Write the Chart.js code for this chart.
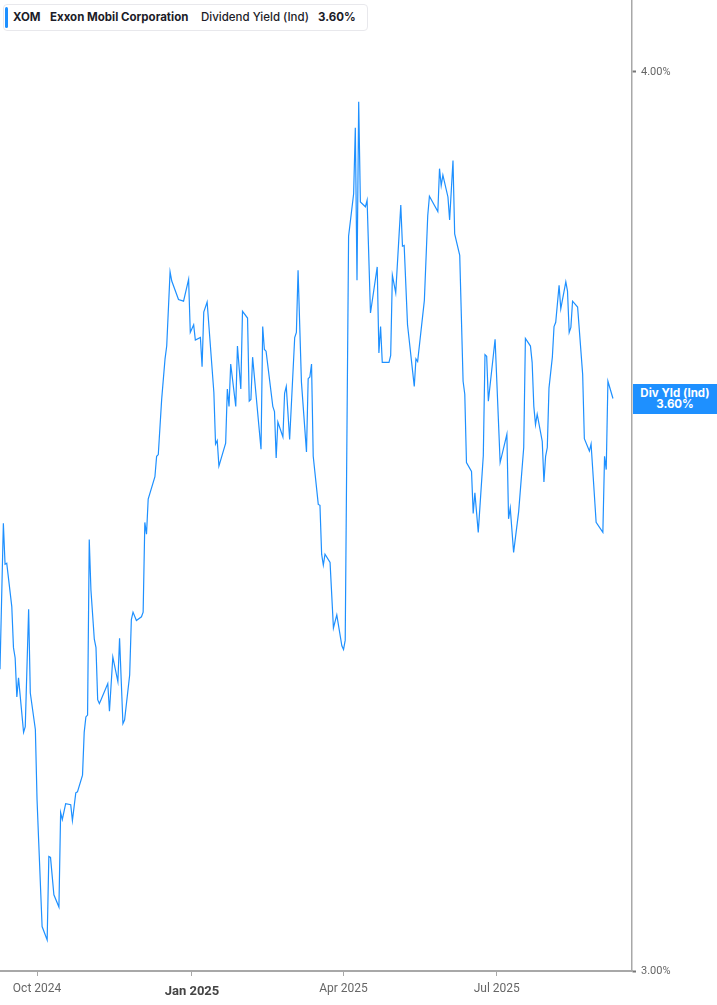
<!DOCTYPE html>
<html>
<head>
<meta charset="utf-8">
<script src="https://cdn.jsdelivr.net/npm/chart.js@4.4.1/dist/chart.umd.min.js"></script>
<style>
  body { margin: 0; background: #fff; }
  #wrap { position: relative; width: 717px; height: 1005px; }
  #legend {
    position: absolute; left: 3px; top: 4px; width: 363px; height: 25px;
    border: 1px solid #e8e8ec; border-radius: 4px; background: #fff;
    font-family: Inter, "Noto Sans", sans-serif; font-size: 11.5px; color: #1c1c28;
  }
  #legend .bar { position: absolute; left: 1px; top: 2px; width: 3px; height: 21px; background: #1e90ff; border-radius: 2px; }
  #legend span.t { position: absolute; top: 5px; line-height: 14px; white-space: nowrap; }
  #legend .b { font-weight: 700; }
  #legend .m { font-weight: 500; }
  #tag {
    position: absolute; left: 633px; width: 84px; height: 30px; background: #1e90ff; color: #fff;
    font-family: Inter, "Noto Sans", sans-serif; font-size: 11.5px; font-weight: 700;
    text-align: center; line-height: 11px; padding-top: 4px; box-sizing: border-box;
  }
</style>
</head>
<body>
<div id="wrap">
  <canvas id="chart" width="717" height="1005"></canvas>
  <div id="legend">
    <span class="bar"></span>
    <span class="t b" style="left:9px">XOM</span>
    <span class="t b" style="left:46px">Exxon Mobil Corporation</span>
    <span class="t m" style="left:197px">Dividend Yield (Ind)</span>
    <span class="t b" style="left:314px" id="legend-val"></span>
  </div>
  <div id="tag">Div Yld (Ind)<br><span id="tag-val"></span></div>
</div>
<script>
const dates = [
  '2024-09-09','2024-09-11','2024-09-12','2024-09-13','2024-09-16','2024-09-17','2024-09-18','2024-09-19','2024-09-20',
  '2024-09-23','2024-09-24','2024-09-26','2024-09-27','2024-09-30',
  '2024-10-01','2024-10-02','2024-10-04','2024-10-07','2024-10-08','2024-10-09','2024-10-11','2024-10-14','2024-10-15',
  '2024-10-16','2024-10-18','2024-10-21','2024-10-22','2024-10-24','2024-10-25','2024-10-28','2024-10-29','2024-10-30','2024-10-31',
  '2024-11-01','2024-11-02','2024-11-04','2024-11-05','2024-11-06','2024-11-07','2024-11-08','2024-11-12','2024-11-13',
  '2024-11-15','2024-11-18','2024-11-19','2024-11-21','2024-11-22','2024-11-25','2024-11-26','2024-11-27','2024-11-29',
  '2024-12-02','2024-12-03','2024-12-04','2024-12-05','2024-12-06','2024-12-10','2024-12-11','2024-12-12','2024-12-14',
  '2024-12-16','2024-12-17','2024-12-19','2024-12-20','2024-12-24','2024-12-27','2024-12-30','2024-12-31',
  '2025-01-02','2025-01-03','2025-01-06','2025-01-07','2025-01-08','2025-01-10','2025-01-14','2025-01-15','2025-01-16',
  '2025-01-17','2025-01-21','2025-01-22','2025-01-23','2025-01-24','2025-01-27','2025-01-28','2025-01-30','2025-01-31',
  '2025-02-03','2025-02-04','2025-02-05','2025-02-06','2025-02-11','2025-02-12','2025-02-13','2025-02-14','2025-02-18',
  '2025-02-19','2025-02-20','2025-02-21','2025-02-24','2025-02-25','2025-02-26','2025-02-28',
  '2025-03-03','2025-03-04','2025-03-05','2025-03-07','2025-03-10','2025-03-11','2025-03-12','2025-03-13','2025-03-14',
  '2025-03-17','2025-03-18','2025-03-19','2025-03-20','2025-03-21','2025-03-24','2025-03-26','2025-03-28','2025-03-31',
  '2025-04-01','2025-04-02','2025-04-04','2025-04-07','2025-04-08','2025-04-09','2025-04-10','2025-04-11','2025-04-14',
  '2025-04-15','2025-04-17','2025-04-21','2025-04-22','2025-04-23','2025-04-24','2025-04-28','2025-04-29','2025-04-30',
  '2025-05-02','2025-05-05','2025-05-06','2025-05-07','2025-05-09','2025-05-13','2025-05-14','2025-05-15','2025-05-19',
  '2025-05-21','2025-05-22','2025-05-27','2025-05-28','2025-05-29','2025-05-30',
  '2025-06-02','2025-06-03','2025-06-05','2025-06-06','2025-06-09','2025-06-11','2025-06-12','2025-06-13','2025-06-16',
  '2025-06-17','2025-06-18','2025-06-20','2025-06-23','2025-06-24','2025-06-25','2025-06-26','2025-06-30',
  '2025-07-03','2025-07-07','2025-07-08','2025-07-09','2025-07-11','2025-07-14','2025-07-17','2025-07-18','2025-07-21',
  '2025-07-22','2025-07-23','2025-07-24','2025-07-25','2025-07-28','2025-07-29','2025-07-30','2025-07-31',
  '2025-08-01','2025-08-03','2025-08-04','2025-08-05','2025-08-07','2025-08-08','2025-08-11','2025-08-12','2025-08-13',
  '2025-08-14','2025-08-15','2025-08-18','2025-08-21','2025-08-22','2025-08-25','2025-08-26','2025-08-29',
  '2025-09-02','2025-09-03','2025-09-04','2025-09-05','2025-09-08'
];

const yields = [
  3.304,3.462,3.417,3.418,3.371,3.327,3.316,3.275,3.295,
  3.238,3.244,3.368,3.279,3.241,
  3.169,3.126,3.043,3.030,3.112,3.111,3.074,3.062,3.156,
  3.149,3.165,3.164,3.148,3.176,3.177,3.194,3.238,3.254,3.256,
  3.444,3.389,3.336,3.327,3.272,3.268,3.272,3.289,3.260,
  3.317,3.291,3.337,3.247,3.251,3.298,3.357,3.365,3.356,
  3.360,3.365,3.463,3.450,3.489,3.514,3.537,3.539,3.602,
  3.649,3.664,3.752,3.741,3.719,3.717,3.743,3.680,
  3.689,3.671,3.674,3.640,3.704,3.716,3.610,3.551,3.555,
  3.526,3.552,3.614,3.594,3.643,3.594,3.664,3.614,3.705,
  3.697,3.600,3.602,3.651,3.545,3.687,3.660,3.658,3.594,
  3.588,3.535,3.576,3.559,3.609,3.617,3.556,
  3.674,3.680,3.754,3.622,3.542,3.626,3.628,3.643,3.537,
  3.483,3.482,3.428,3.416,3.428,3.419,3.348,3.362,3.329,
  3.325,3.335,3.795,3.847,3.929,3.742,3.962,3.837,3.831,
  3.839,3.703,3.758,3.656,3.687,3.645,3.645,3.653,3.748,
  3.727,3.833,3.783,3.784,3.689,3.617,3.649,3.646,3.718,
  3.820,3.844,3.825,3.878,3.857,3.870,
  3.843,3.815,3.888,3.798,3.772,3.623,3.608,3.530,3.520,
  3.473,3.496,3.452,3.538,3.654,3.652,3.600,3.672,
  3.530,3.562,3.467,3.479,3.430,3.475,3.547,3.673,3.664,
  3.645,3.594,3.573,3.585,3.554,3.508,3.537,3.547,
  3.615,3.651,3.687,3.692,3.736,3.708,3.740,3.729,3.680,
  3.686,3.717,3.710,3.631,3.557,3.543,3.551,3.463,
  3.452,3.537,3.522,3.623,3.603
];

const tickDates = ['2024-10-01', '2025-01-01', '2025-04-01', '2025-07-01'];
const tickLabels = ['Oct 2024', 'Jan 2025', 'Apr 2025', 'Jul 2025'];
const yTicks = [3, 4];

const dayNum = s => Date.UTC(+s.slice(0, 4), +s.slice(5, 7) - 1, +s.slice(8, 10)) / 86400000;

const lineColor = '#1e90ff';
const axisColor = '#a8a8a8';
const last = yields[yields.length - 1];

document.getElementById('legend-val').textContent = last.toFixed(2) + '%';
document.getElementById('tag-val').textContent = last.toFixed(2) + '%';

// keep the blue value tag on the last point
const tagPlugin = {
  id: 'tagPlugin',
  afterDraw(chart) {
    const y = chart.scales.y.getPixelForValue(last);
    document.getElementById('tag').style.top = (y - 15) + 'px';
  }
};

new Chart(document.getElementById('chart'), {
  type: 'line',
  data: {
    datasets: [{
      data: dates.map((d, i) => ({ x: dayNum(d), y: yields[i] })),
      borderColor: lineColor,
      borderWidth: 1.2,
      pointRadius: 0,
      tension: 0,
      fill: false
    }]
  },
  options: {
    responsive: false,
    animation: false,
    devicePixelRatio: 1,
    layout: { padding: 0 },
    plugins: { legend: { display: false }, tooltip: { enabled: false } },
    scales: {
      x: {
        type: 'linear',
        min: dayNum('2024-09-09'),
        max: dayNum('2025-09-19') + 0.3,
        afterBuildTicks: s => { s.ticks = tickDates.map(d => ({ value: dayNum(d) })); },
        afterFit: s => { s.height = 34; s.paddingLeft = 0; s.paddingRight = 0; },
        grid: { drawOnChartArea: false, drawTicks: true, tickLength: 5, tickColor: axisColor, tickWidth: 1 },
        border: { display: true, color: axisColor, width: 2 },
        ticks: {
          padding: 6,
          maxRotation: 0,
          autoSkip: false,
          color: (c) => c.index === 1 ? '#444' : '#666',
          font: (c) => c.index === 1
            ? { family: 'Roboto', size: 13, weight: 'bold', lineHeight: 1.55 }
            : { family: 'Roboto', size: 12, lineHeight: 1.2 },
          callback: (v, i) => tickLabels[i]
        }
      },
      y: {
        type: 'logarithmic',
        position: 'right',
        min: 3,
        max: 4.093,
        afterBuildTicks: s => { s.ticks = yTicks.map(v => ({ value: v })); },
        afterFit: s => { s.width = 85; s.paddingTop = 0; s.paddingBottom = 0; },
        grid: { drawOnChartArea: false, drawTicks: true, tickLength: 4, tickColor: '#777', tickWidth: 2 },
        border: { display: true, color: axisColor, width: 1.5 },
        ticks: {
          padding: 5,
          color: '#666',
          font: { family: 'Roboto', size: 11 },
          callback: (v) => v.toFixed(2) + '%'
        }
      }
    }
  },
  plugins: [tagPlugin]
});
</script>
</body>
</html>
